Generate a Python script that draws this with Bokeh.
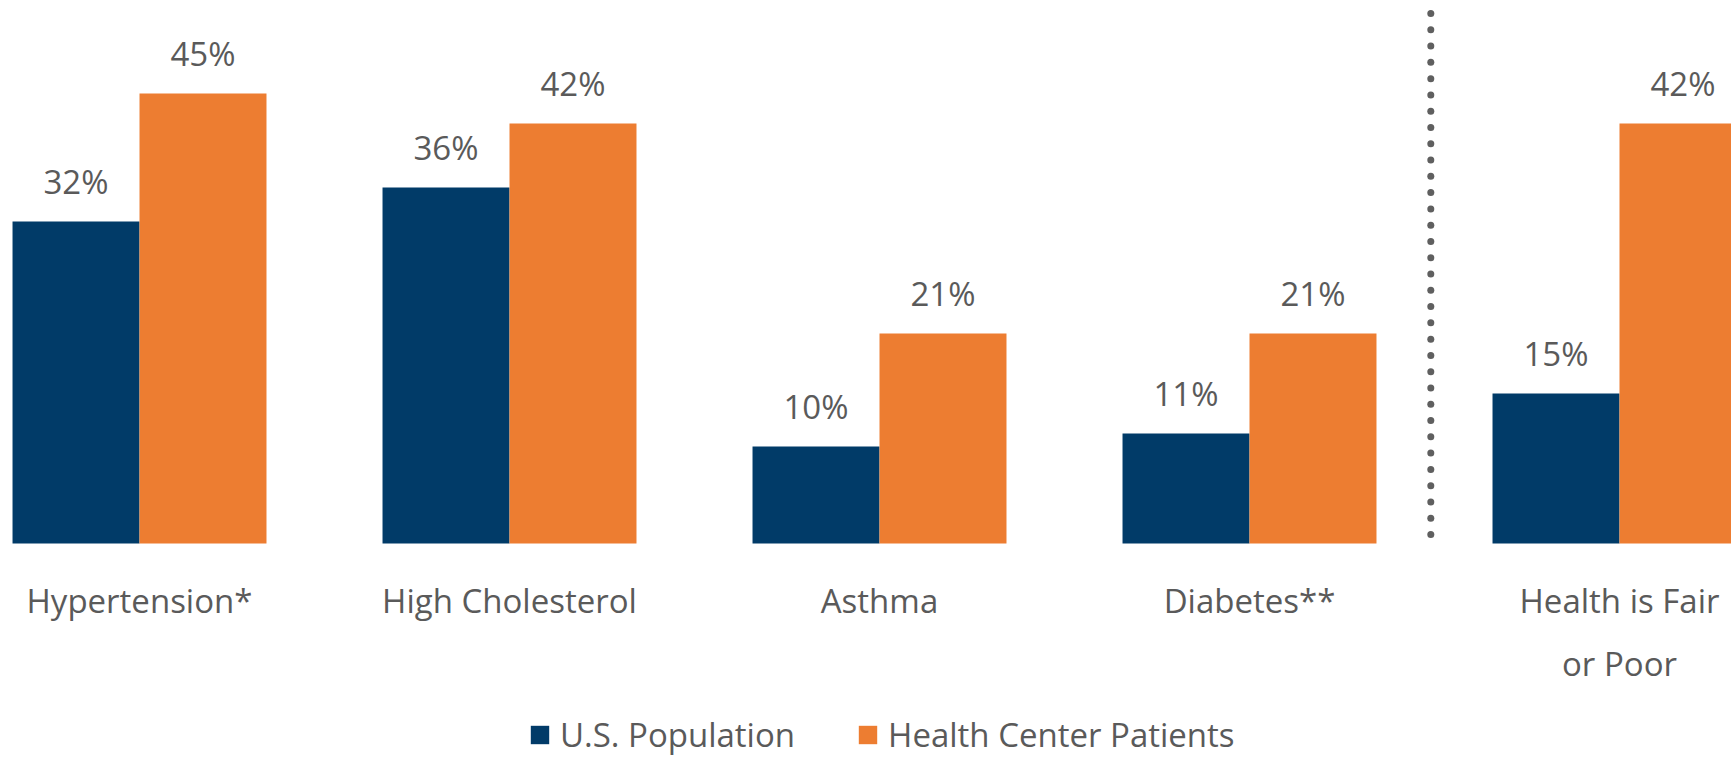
import numpy as np
from bokeh.plotting import figure
from bokeh.models import ColumnDataSource, LabelSet, Range1d, Legend, LegendItem
from bokeh.core.properties import value
from bokeh.embed import file_html
from bokeh.resources import INLINE

# ---- data ----
categories = ["Hypertension*", "High Cholesterol", "Asthma", "Diabetes**", "Health is Fair\nor Poor"]
us_population = [32.2, 35.6, 9.7, 11.0, 15.0]
health_center = [45.0, 42.0, 21.0, 21.0, 42.0]
series_names = ["U.S. Population", "Health Center Patients"]
series_colors = ["#013B68", "#ED7D31"]

FONT = "Open Sans"
TXT = "#5a5a5a"
FS = "33px"

idx = np.arange(len(categories))
bar_w = 0.3432

p = figure(width=1731, height=757, output_backend="svg", toolbar_location=None,
           x_range=Range1d(-0.3757, 4.3027), y_range=Range1d(-21.4, 54.3),
           x_axis_type=None, y_axis_type=None, min_border=0,
           outline_line_color=None, background_fill_color="white")
p.grid.visible = False

src_us = ColumnDataSource(dict(x=idx - bar_w / 2, top=us_population,
                               lab=[f"{round(v)}%" for v in us_population]))
src_hc = ColumnDataSource(dict(x=idx + bar_w / 2, top=health_center,
                               lab=[f"{round(v)}%" for v in health_center]))

r_us = p.vbar(x="x", top="top", bottom=0, width=bar_w, source=src_us,
              fill_color=series_colors[0], line_color=None)
r_hc = p.vbar(x="x", top="top", bottom=0, width=bar_w, source=src_hc,
              fill_color=series_colors[1], line_color=None)

for src in (src_us, src_hc):
    p.add_layout(LabelSet(x="x", y="top", text="lab", source=src, y_offset=28,
                          text_align="center", text_baseline="alphabetic",
                          text_font=value(FONT), text_font_size=FS, text_color=TXT))

# category labels (split multi-line labels into lines)
cx, ctext, coff = [], [], []
for i, c in zip(idx, categories):
    for j, line in enumerate(c.split("\n")):
        cx.append(i)
        ctext.append(line)
        coff.append(-69 - 63 * j)
src_cat = ColumnDataSource(dict(x=cx, y=[0] * len(cx), text=ctext, off=coff))
p.add_layout(LabelSet(x="x", y="y", text="text", source=src_cat, y_offset="off",
                      text_align="center", text_baseline="alphabetic",
                      text_font=value(FONT), text_font_size=FS, text_color=TXT))

# dotted separator between the disease groups and self-reported health (decoration)
sep_x = len(categories) - 1.51
n_dots = 33
p.scatter(x=[sep_x] * n_dots, y=np.linspace(0.9, 53.0, n_dots), size=7,
          marker="circle", fill_color="#5f5f5f", line_color=None)

legend = Legend(items=[LegendItem(label=series_names[0], renderers=[r_us]),
                       LegendItem(label=series_names[1], renderers=[r_hc])],
                orientation="horizontal", location=(528, 0),
                glyph_width=23, glyph_height=23, label_height=23,
                label_standoff=9, spacing=61, padding=0, margin=0,
                border_line_color=None, background_fill_alpha=0,
                label_text_font=FONT, label_text_font_size=FS,
                label_text_color=TXT)
p.add_layout(legend)

open("out.html", "w").write(file_html(p, INLINE))
